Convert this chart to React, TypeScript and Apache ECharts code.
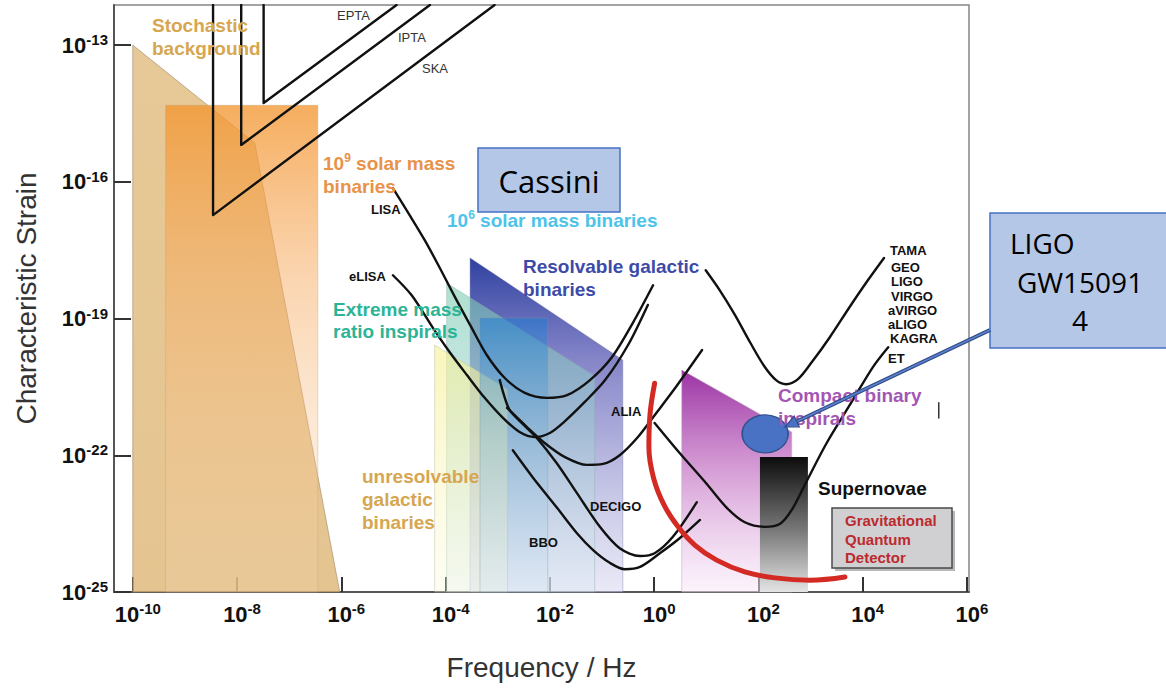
import React, { useEffect, useRef } from 'react';
import * as echarts from 'echarts';

const FONT = '"Liberation Sans", Arial, Helvetica, sans-serif';
const BOX_FONT = '"Open Sans", "Noto Sans", sans-serif';

// Axes are in decades: log10(frequency / Hz) and log10(characteristic strain)
const freqRange = [-10.36, 6.04];
const strainRange = [-25, -12.12];
const freqTicks = [-10, -8, -6, -4, -2, 0, 2, 4, 6];
const strainTicks = [-25, -22, -19, -16, -13];

// Pulsar timing arrays
const eptaCurve = [[-7.49, -12.12], [-7.49, -14.27], [-4.94, -12.12]];
const iptaCurve = [[-7.92, -12.12], [-7.92, -15.19], [-4.3, -12.12]];
const skaCurve = [[-8.46, -12.12], [-8.46, -16.73], [-3.06, -12.12]];

// Space-borne interferometers
const lisaCurve = [
  [-5.01, -16.14], [-4.69, -16.73], [-4.4, -17.28], [-4.11, -17.89], [-3.82, -18.53],
  [-3.53, -19.14], [-3.21, -19.8], [-2.86, -20.31], [-2.48, -20.63], [-2.06, -20.74],
  [-1.67, -20.68], [-1.23, -20.35], [-0.81, -19.85], [-0.41, -19.1], [-0.02, -18.27],
];
const elisaCurve = [
  [-5.01, -18.05], [-4.65, -18.49], [-4.24, -19.21], [-3.92, -19.74], [-3.59, -20.24],
  [-3.25, -20.74], [-2.9, -21.18], [-2.58, -21.49], [-2.29, -21.6], [-2.0, -21.51],
  [-1.71, -21.25], [-1.33, -20.83], [-0.94, -20.35], [-0.5, -19.58], [-0.12, -18.7],
];
const aliaCurve = [
  [-2.82, -20.96], [-2.44, -21.38], [-2.1, -21.73], [-1.71, -22.04], [-1.29, -22.21],
  [-0.98, -22.19], [-0.66, -22.0], [-0.31, -21.6], [0.01, -21.12], [0.4, -20.53], [0.92, -19.69],
];
const decigoCurve = [
  [-2.96, -20.35], [-2.88, -20.68], [-2.77, -21.01], [-2.54, -21.29], [-2.25, -21.62],
  [-1.87, -22.17], [-1.48, -22.83], [-1.04, -23.57], [-0.66, -24.04], [-0.27, -24.21],
  [0.01, -24.15], [0.36, -23.79], [0.82, -23.03],
];
const bboCurve = [
  [-2.71, -21.89], [-2.33, -22.48], [-1.87, -23.14], [-1.48, -23.71], [-1.17, -24.08],
  [-0.85, -24.36], [-0.56, -24.5], [-0.27, -24.45], [0.11, -24.15], [0.49, -23.82], [0.88, -23.42],
];

// Ground-based interferometers
const groundCurve = [
  [0.99, -17.94], [1.26, -18.38], [1.55, -18.92], [1.84, -19.52], [2.11, -20.04],
  [2.34, -20.35], [2.53, -20.44], [2.76, -20.33], [3.03, -19.95], [3.37, -19.41],
  [3.76, -18.73], [4.1, -18.16], [4.41, -17.67],
];
const etCurve = [
  [0.01, -21.29], [0.49, -21.95], [1.01, -22.63], [1.4, -23.16], [1.74, -23.47],
  [2.13, -23.57], [2.41, -23.51], [2.64, -23.2], [2.89, -22.65], [3.31, -21.73],
  [3.81, -20.79], [4.2, -20.06], [4.49, -19.63],
];
const gqdCurve = [
  [0.01, -20.42], [-0.08, -21.12], [-0.1, -21.82], [-0.01, -22.5], [0.19, -23.09],
  [0.46, -23.57], [0.78, -23.97], [1.2, -24.3], [1.74, -24.56], [2.32, -24.69],
  [2.99, -24.74], [3.66, -24.67],
];
const markerSegment = [[5.46, -20.85], [5.46, -21.18]];

// Source regions
const stochasticRegion = [[-10, -13], [-7.66, -15.15], [-6.03, -25], [-10, -25]];
const smbhRegion = [[-9.37, -14.32], [-6.45, -14.32], [-6.45, -25], [-9.37, -25]];
const resolvableRegion = [[-3.53, -17.67], [-0.6, -19.91], [-0.6, -25], [-3.53, -25]];
const emriRegion = [[-3.98, -18.22], [-1.14, -20.26], [-1.14, -25], [-3.98, -25]];
const unresolvableRegion = [[-4.21, -19.58], [-2.81, -20.55], [-2.81, -25], [-4.21, -25]];
const mbhRegion = [[-3.34, -18.99], [-2.04, -18.99], [-2.04, -25], [-3.34, -25]];
const compactRegion = [[0.53, -20.13], [2.64, -21.49], [2.64, -25], [0.53, -25]];
const supernovaRegion = [[2.03, -22.04], [2.95, -22.04], [2.95, -25], [2.03, -25]];

const gw150914 = [[2.13, -21.53]];

type Stop = [number, string];

function regionSeries(name: string, points: number[][], stops: Stop[], stroke = 'rgba(0,0,0,0)', lineWidth = 0) {
  return {
    type: 'custom',
    name,
    coordinateSystem: 'cartesian2d',
    silent: true,
    data: points,
    encode: { x: 0, y: 1 },
    renderItem: (params: any, api: any) => {
      if (params.dataIndex !== 0) return null;
      const pts = points.map((p) => api.coord(p));
      return {
        type: 'polygon',
        shape: { points: pts },
        style: {
          fill: new echarts.graphic.LinearGradient(0, 0, 0, 1, stops.map(([offset, color]) => ({ offset, color }))),
          stroke,
          lineWidth,
        },
      };
    },
  };
}

function curveSeries(name: string, data: number[][], smooth: number | boolean = 0.3, color = '#111', width = 2.4) {
  return {
    type: 'line',
    name,
    data,
    smooth,
    symbol: 'none',
    silent: true,
    lineStyle: { color, width, cap: 'round', join: 'round' },
  };
}

function text(content: string, x: number, y: number, color: string, size = 19, weight = 'bold', extra: any = {}) {
  return {
    type: 'text',
    x,
    y,
    z: 100,
    silent: true,
    style: {
      text: content,
      fill: color,
      fontSize: size,
      fontWeight: weight,
      fontFamily: FONT,
      align: 'left',
      verticalAlign: 'middle',
      textAlign: 'left',
      textVerticalAlign: 'middle',
      ...extra,
    },
  };
}

function supText(base: string, sup: string, rest: string, x: number, y: number, color: string) {
  return text(`{a|${base}}{b|${sup}}{a|${rest}}`, x, y, color, 19, 'bold', {
    rich: {
      a: { fontSize: 19, fontWeight: 'bold', fontFamily: FONT, fill: color, lineHeight: 22 },
      b: { fontSize: 12, fontWeight: 'bold', fontFamily: FONT, fill: color, lineHeight: 12, verticalAlign: 'top' },
    },
  });
}

const ARROW_FROM = [990, 330];
const ARROW_TIP = [785, 427];

function arrowElements() {
  const dx = ARROW_TIP[0] - ARROW_FROM[0];
  const dy = ARROW_TIP[1] - ARROW_FROM[1];
  const len = Math.hypot(dx, dy);
  const ux = dx / len;
  const uy = dy / len;
  const headLen = 13;
  const half = 6;
  const bx = ARROW_TIP[0] - ux * headLen;
  const by = ARROW_TIP[1] - uy * headLen;
  const px = -uy;
  const py = ux;
  return [
    {
      type: 'line', z: 101, silent: true,
      shape: { x1: ARROW_FROM[0], y1: ARROW_FROM[1], x2: bx, y2: by },
      style: { stroke: '#2F4A86', lineWidth: 4 },
    },
    {
      type: 'line', z: 102, silent: true,
      shape: { x1: ARROW_FROM[0], y1: ARROW_FROM[1], x2: bx, y2: by },
      style: { stroke: '#5B82CC', lineWidth: 1.6 },
    },
    {
      type: 'polygon', z: 102, silent: true,
      shape: { points: [[ARROW_TIP[0], ARROW_TIP[1]], [bx + px * half, by + py * half], [bx - px * half, by - py * half]] },
      style: { fill: '#4A72C4', stroke: '#2F4A86', lineWidth: 1.2 },
    },
  ];
}

const axisRich = {
  b: { fontSize: 22, fontWeight: 'bold', fontFamily: FONT, color: '#111', lineHeight: 26 },
  s: { fontSize: 15, fontWeight: 'bold', fontFamily: FONT, color: '#111', lineHeight: 16, verticalAlign: 'top' },
};

export default function App() {
  const ref = useRef<HTMLDivElement>(null);

  useEffect(() => {
    if (!ref.current) return;
    const chart = echarts.init(ref.current, undefined, { renderer: 'svg' });

    const option: any = {
      animation: false,
      backgroundColor: '#ffffff',
      grid: {
        left: 114, right: 197, top: 5, bottom: 97,
        show: true, borderColor: '#858585', borderWidth: 1.5, backgroundColor: '#ffffff',
      },
      xAxis: {
        type: 'value',
        min: freqRange[0],
        max: freqRange[1],
        name: 'Frequency / Hz',
        nameLocation: 'middle',
        nameGap: 61,
        nameTextStyle: { fontSize: 28, color: '#333', fontFamily: FONT },
        axisLine: { onZero: false, lineStyle: { color: '#555', width: 2 } },
        axisTick: { inside: true, length: 15, customValues: freqTicks, lineStyle: { color: '#333', width: 2 } },
        axisLabel: {
          customValues: freqTicks,
          margin: 9,
          padding: [0, 0, 0, 10],
          formatter: (v: number) => `{b|10}{s|${Math.round(v)}}`,
          rich: axisRich,
        },
        splitLine: { show: false },
      },
      yAxis: {
        type: 'value',
        min: strainRange[0],
        max: strainRange[1],
        name: 'Characteristic Strain',
        nameLocation: 'middle',
        nameGap: 74,
        nameRotate: 90,
        nameTextStyle: { fontSize: 28, color: '#333', fontFamily: FONT },
        axisLine: { onZero: false, lineStyle: { color: '#555', width: 2 } },
        axisTick: { inside: true, length: 17, customValues: strainTicks, lineStyle: { color: '#333', width: 2 } },
        axisLabel: {
          customValues: strainTicks,
          margin: 6,
          formatter: (v: number) => `{b|10}{s|${Math.round(v)}}`,
          rich: axisRich,
        },
        splitLine: { show: false },
      },
      series: [
        regionSeries('Stochastic background', stochasticRegion, [
          [0, 'rgba(224,186,122,0.78)'], [1, 'rgba(222,184,120,0.82)'],
        ], 'rgba(150,125,95,0.55)', 1),
        regionSeries('10^9 solar mass binaries', smbhRegion, [
          [0, 'rgba(243,150,48,0.78)'], [0.35, 'rgba(246,170,95,0.5)'], [1, 'rgba(250,215,180,0.2)'],
        ], 'rgba(190,160,120,0.35)', 1),
        curveSeries('EPTA', eptaCurve, false),
        curveSeries('IPTA', iptaCurve, false),
        curveSeries('SKA', skaCurve, false),

        regionSeries('Resolvable galactic binaries', resolvableRegion, [
          [0, 'rgba(35,55,155,0.95)'], [0.3, 'rgba(110,110,190,0.85)'], [1, 'rgba(215,215,240,0.55)'],
        ], 'rgba(120,120,170,0.4)', 1),
        regionSeries('Extreme mass ratio inspirals', emriRegion, [
          [0, 'rgba(125,205,175,0.62)'], [0.4, 'rgba(150,205,205,0.5)'], [1, 'rgba(220,235,242,0.35)'],
        ], 'rgba(140,170,170,0.4)', 1),
        regionSeries('unresolvable galactic binaries', unresolvableRegion, [
          [0, 'rgba(246,240,150,0.65)'], [1, 'rgba(250,250,215,0.3)'],
        ], 'rgba(180,180,150,0.4)', 1),
        regionSeries('10^6 solar mass binaries', mbhRegion, [
          [0, 'rgba(30,125,210,0.55)'], [0.45, 'rgba(110,175,215,0.3)'], [1, 'rgba(200,225,240,0.2)'],
        ], 'rgba(120,150,170,0.35)', 1),
        regionSeries('Compact binary inspirals', compactRegion, [
          [0, 'rgba(150,40,160,0.95)'], [0.45, 'rgba(200,125,200,0.75)'], [1, 'rgba(248,232,248,0.5)'],
        ], 'rgba(190,170,190,0.5)', 1),
        regionSeries('Supernovae', supernovaRegion, [
          [0, '#0c0c0c'], [0.55, '#7a7a7a'], [1, '#e4e4e4'],
        ]),

        curveSeries('LISA', lisaCurve),
        curveSeries('eLISA', elisaCurve),
        curveSeries('ALIA', aliaCurve),
        curveSeries('DECIGO', decigoCurve),
        curveSeries('BBO', bboCurve),
        curveSeries('TAMA GEO LIGO VIRGO aVIRGO aLIGO KAGRA', groundCurve),
        curveSeries('ET', etCurve),
        curveSeries('marker', markerSegment, false, '#333', 1.5),
        curveSeries('Gravitational Quantum Detector', gqdCurve, 0.4, '#D42A24', 5),
        {
          type: 'scatter',
          name: 'LIGO GW150914',
          data: gw150914,
          symbol: 'circle',
          symbolSize: [46, 38],
          silent: true,
          z: 5,
          itemStyle: { color: '#4A72C4', borderColor: '#2F528F', borderWidth: 1.5, opacity: 1 },
        },
      ],
      graphic: [
        text('Stochastic', 152, 25, '#D6A650'),
        text('background', 152, 48, '#D6A650'),
        supText('10', '9', ' solar mass', 323, 163, '#E8924A'),
        text('binaries', 323, 186, '#E8924A'),
        supText('10', '6', ' solar mass binaries', 447, 220, '#4EC3EA'),
        text('Resolvable galactic', 523, 266, '#3C4BA8'),
        text('binaries', 523, 289, '#3C4BA8'),
        text('Extreme mass', 333, 309, '#2DB496'),
        text('ratio inspirals', 333, 331, '#2DB496'),
        text('unresolvable', 362, 476, '#D6A650'),
        text('galactic', 362, 499, '#D6A650'),
        text('binaries', 362, 522, '#D6A650'),
        text('Compact binary', 778, 395, '#A456B4'),
        text('inspirals', 778, 418, '#A456B4'),
        text('Supernovae', 818, 488, '#111'),

        text('EPTA', 337, 15, '#333', 13, 'normal'),
        text('IPTA', 398, 37, '#333', 13, 'normal'),
        text('SKA', 422, 68, '#333', 13, 'normal'),
        text('LISA', 371, 209, '#111', 13),
        text('eLISA', 349, 276, '#111', 13),
        text('ALIA', 611, 411, '#111', 13),
        text('DECIGO', 590, 506, '#111', 13),
        text('BBO', 529, 542, '#111', 13),
        text('TAMA', 890, 250, '#111', 13),
        text('GEO', 891, 267, '#111', 13),
        text('LIGO', 891, 281, '#111', 13),
        text('VIRGO', 891, 296, '#111', 13),
        text('aVIRGO', 888, 310, '#111', 13),
        text('aLIGO', 888, 324, '#111', 13),
        text('KAGRA', 890, 338, '#111', 13),
        text('ET', 888, 358, '#111', 13),

        // Gravitational Quantum Detector call-out
        { type: 'rect', z: 99, silent: true, shape: { x: 835, y: 511, width: 120, height: 60 }, style: { fill: 'rgba(0,0,0,0.28)' } },
        { type: 'rect', z: 100, silent: true, shape: { x: 832, y: 508, width: 120, height: 60 }, style: { fill: '#D0D0D3', stroke: '#4A4A4A', lineWidth: 1.5 } },
        text('Gravitational', 845, 520, '#BC2A2E', 15),
        text('Quantum', 845, 539, '#BC2A2E', 15),
        text('Detector', 845, 557, '#BC2A2E', 15),

        // Cassini box
        { type: 'rect', z: 100, silent: true, shape: { x: 478, y: 148, width: 142, height: 64 }, style: { fill: '#B4C7E7', stroke: '#4472C4', lineWidth: 1.5 } },
        text('Cassini', 549, 181, '#000', 31, 'normal', { fontFamily: BOX_FONT, align: 'center', textAlign: 'center' }),

        // LIGO GW150914 box and arrow
        { type: 'rect', z: 100, silent: true, shape: { x: 990, y: 213, width: 190, height: 135 }, style: { fill: '#B4C7E7', stroke: '#4472C4', lineWidth: 1.5 } },
        text('LIGO', 1010, 243, '#000', 28, 'normal', { fontFamily: BOX_FONT }),
        text('GW15091', 1080, 282, '#000', 28, 'normal', { fontFamily: BOX_FONT, align: 'center', textAlign: 'center' }),
        text('4', 1080, 320, '#000', 28, 'normal', { fontFamily: BOX_FONT, align: 'center', textAlign: 'center' }),
        ...arrowElements(),
      ],
    };

    chart.setOption(option);
    return () => chart.dispose();
  }, []);

  return (
    <div
      ref={ref}
      style={{ position: 'fixed', left: 0, top: 0, width: 1166, height: 689, background: '#fff' }}
    />
  );
}
